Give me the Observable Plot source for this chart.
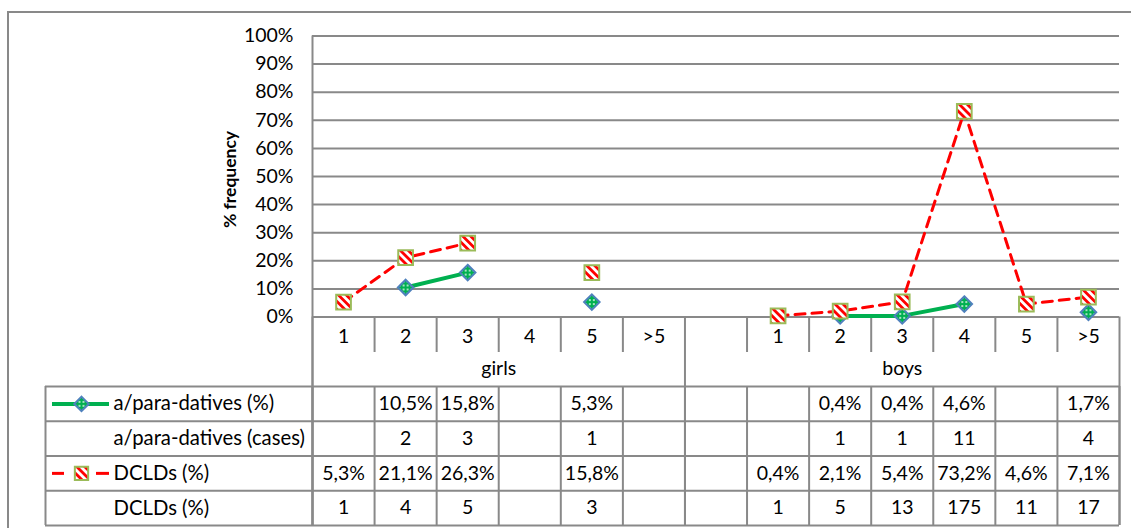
<!DOCTYPE html>
<html><head><meta charset="utf-8">
<script src="https://cdn.jsdelivr.net/npm/d3@7"></script>
<script src="https://cdn.jsdelivr.net/npm/@observablehq/plot@0.6"></script>
<style>
html,body{margin:0;padding:0;background:#fff;overflow:hidden;}
#wrap{position:relative;width:1131px;height:528px;overflow:hidden;}
#border{position:absolute;left:7px;top:11px;width:1300px;height:700px;border-left:2px solid #898989;border-top:2px solid #898989;}
#chart{position:absolute;left:0;top:0;}
</style></head>
<body>
<svg width="0" height="0" style="position:absolute">
<defs>
<pattern id="stripes" patternUnits="userSpaceOnUse" width="5.6" height="5.6" patternTransform="rotate(-45)">
<rect width="5.6" height="5.6" fill="#ffffff"/><rect width="2.8" height="5.6" fill="#ff0000"/>
</pattern>
<pattern id="dots" patternUnits="userSpaceOnUse" width="4" height="4">
<rect width="4" height="4" fill="#00b050"/><rect x="1.2" y="1.2" width="1.6" height="1.6" fill="#ffffff"/>
</pattern>
</defs></svg>
<div id="wrap"><div id="border"></div><div id="chart"></div></div>
<script>
// ---------------- data ----------------
const categories = ["1","2","3","4","5",">5","","1","2","3","4","5",">5"];
const groupNames = ["girls","boys"];
const groupSizes = [6,7];
const paraPct   = [null,10.5,15.8,null,5.3,null,null,null,0.4,0.4,4.6,null,1.7];
const paraCases = [null,2,3,null,1,null,null,null,1,1,11,null,4];
const dcldPct   = [5.3,21.1,26.3,null,15.8,null,null,0.4,2.1,5.4,73.2,4.6,7.1];
const dcldCases = [1,4,5,null,3,null,null,1,5,13,175,11,17];
const rowLabels = ["a/para-datives (%)","a/para-datives (cases)","DCLDs (%)","DCLDs (%)"];
const yTicks = [0,10,20,30,40,50,60,70,80,90,100];
const yLabel = "% frequency";

// ---------------- style / layout ----------------
const W = 1131, H = 528;
const mL = 312, mR = 12, mT = 35.5, mB = 211.5;
const frameW = W - mL - mR, frameH = H - mT - mB;
const gridColor = "#898989";
const green = "#00b050", blue = "#4f81bd", red = "#ff0000", olive = "#9bbb59";
const font = "Lato, 'Open Sans', sans-serif";
const tickRowH = 35.5, groupRowH = 34;
const tableTop = tickRowH + groupRowH;
const rowH = 34.75;
const tableBottom = tableTop + rowH * 4;
const labelColLeft = -267, labelTextX = -199, swatchL = -260, swatchR = -203, swatchC = -231;

const fmtPct = v => v.toFixed(1).replace(".", ",") + "%";
const fmtInt = v => String(v);

const series = (arr) => arr.map((v, i) => ({x: i + 0.5, y: v == null ? NaN : v}));
const paraSeries = series(paraPct);
const dcldSeries = series(dcldPct);

const rows = [
  {values: paraPct, fmt: fmtPct},
  {values: paraCases, fmt: fmtInt},
  {values: dcldPct, fmt: fmtPct},
  {values: dcldCases, fmt: fmtInt}
];
const rowCenter = k => tableTop + rowH * (k + 0.5);

// group boundaries
const groupEdges = [0];
groupSizes.forEach(s => groupEdges.push(groupEdges[groupEdges.length - 1] + s));
const groupCenters = groupNames.map((g, k) => (groupEdges[k] + groupEdges[k + 1]) / 2);
const allEdges = d3.range(categories.length + 1);
const innerEdges = allEdges.filter(e => !groupEdges.includes(e));

const lineStyle = {stroke: gridColor, strokeWidth: 2};
const cellText = {frameAnchor: "bottom", lineAnchor: "middle", fill: "#000"};

const marks = [
  Plot.gridY(yTicks, {stroke: gridColor, strokeOpacity: 1, strokeWidth: 2}),
  Plot.axisY(yTicks, {tickSize: 0, tickPadding: 19, tickFormat: d => d + "%", label: null, fill: "#000"}),
  Plot.text([yLabel], {frameAnchor: "left", textAnchor: "middle", lineAnchor: "middle", dx: -82, dy: 3, rotate: -90, fontWeight: "bold", fontSize: 17.5, fill: "#000"}),
  // value axis line, continuing down as the table's divider
  Plot.ruleX([0], {...lineStyle, insetBottom: -tableBottom}),
  // table: vertical lines
  Plot.ruleX(innerEdges, {...lineStyle, insetTop: frameH, insetBottom: -tickRowH}),
  Plot.ruleX(groupEdges, {...lineStyle, insetTop: frameH, insetBottom: -tableBottom}),
  Plot.ruleX(allEdges, {...lineStyle, insetTop: frameH + tableTop, insetBottom: -tableBottom}),
  Plot.ruleX([0], {...lineStyle, dx: labelColLeft, insetTop: frameH + tableTop, insetBottom: -tableBottom}),
  // table: horizontal lines
  ...d3.range(5).map(k => Plot.ruleY([0], {...lineStyle, dy: tableTop + rowH * k, insetLeft: labelColLeft})),
  // category labels
  Plot.text(categories, {x: (d, i) => i + 0.5, ...cellText, dy: 19.5}),
  Plot.text(groupNames, {x: (d, i) => groupCenters[i], ...cellText, dy: 52}),
  // row labels
  ...rowLabels.map((lab, k) => Plot.text([lab], {x: 0, dx: labelTextX, textAnchor: "start", ...cellText, dy: rowCenter(k), fontSize: 20.3})),
  // cell values
  ...rows.map((r, k) => Plot.text(
    r.values.map((v, i) => ({i, v})).filter(d => d.v != null),
    {x: d => d.i + 0.5, text: d => r.fmt(d.v), ...cellText, dy: rowCenter(k)})),
  // legend keys in table
  Plot.ruleY([0], {dy: rowCenter(0), insetLeft: swatchL, insetRight: frameW - swatchR, stroke: green, strokeWidth: 4}),
  Plot.dot([0], {x: 0, y: 0, dx: swatchC, dy: rowCenter(0), symbol: "diamond2", r: 6.5, fill: "url(#dots)", stroke: blue, strokeWidth: 2}),
  Plot.ruleY([0], {dy: rowCenter(2), insetLeft: swatchL, insetRight: frameW - (swatchL + 12), stroke: red, strokeWidth: 3}),
  Plot.ruleY([0], {dy: rowCenter(2), insetLeft: swatchR - 13, insetRight: frameW - swatchR, stroke: red, strokeWidth: 3}),
  Plot.dot([0], {x: 0, y: 0, dx: swatchC, dy: rowCenter(2), symbol: "square", r: 7.5, fill: "url(#stripes)", stroke: olive, strokeWidth: 2}),
  // series
  Plot.line(paraSeries, {x: "x", y: "y", stroke: green, strokeWidth: 4}),
  Plot.dot(paraSeries, {x: "x", y: "y", symbol: "diamond2", r: 7, fill: "url(#dots)", stroke: blue, strokeWidth: 2}),
  Plot.line(dcldSeries, {x: "x", y: "y", stroke: red, strokeWidth: 3, strokeDasharray: "10,7"}),
  Plot.dot(dcldSeries, {x: "x", y: "y", symbol: "square", r: 8.3, fill: "url(#stripes)", stroke: olive, strokeWidth: 2})
];

const chart = Plot.plot({
  width: W, height: H,
  marginLeft: mL, marginRight: mR, marginTop: mT, marginBottom: mB,
  x: {type: "linear", domain: [0, categories.length], axis: null},
  y: {domain: [0, 100], axis: null},
  style: {fontSize: "19.5px", fontFamily: font, background: "transparent", color: "#000", overflow: "visible"},
  marks
});
document.getElementById("chart").appendChild(chart);
</script>
</body></html>
